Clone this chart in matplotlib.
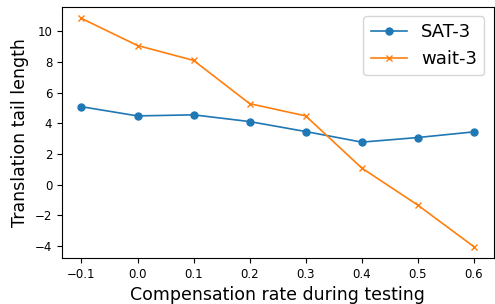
import matplotlib
matplotlib.use("Agg")
import matplotlib.pyplot as plt

# compensation rate used at test time
rates = [-0.1, 0.0, 0.1, 0.2, 0.3, 0.4, 0.5, 0.6]
sat3_tail = [5.08, 4.48, 4.55, 4.11, 3.46, 2.77, 3.07, 3.44]
wait3_tail = [10.84, 9.07, 8.10, 5.28, 4.48, 1.08, -1.34, -4.05]

fig, ax = plt.subplots(figsize=(4.95, 3.04), dpi=100)
ax.plot(rates, sat3_tail, marker="o", lw=1.2, ms=5, label="SAT-3")
ax.plot(rates, wait3_tail, marker="x", lw=1.2, ms=5, label="wait-3")
ax.set_xticks(rates)
ax.tick_params(labelsize=8.5)
ax.set_xlabel("Compensation rate during testing", fontsize=12.5)
ax.set_ylabel("Translation tail length", fontsize=12.5)
ax.legend(fontsize=13)
fig.subplots_adjust(left=0.125, right=0.997, top=0.977, bottom=0.151)
fig.savefig("out.png")
